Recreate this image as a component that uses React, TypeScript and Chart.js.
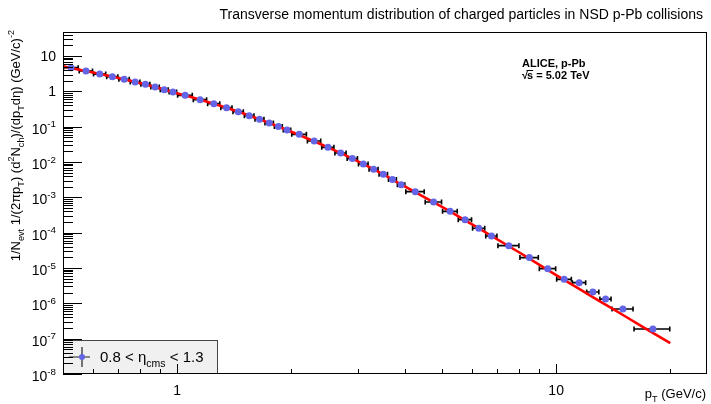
import React, { useEffect, useRef } from "react";
import { Chart, registerables } from "chart.js";

Chart.register(...registerables);

// ---- data ----
const ptCenters = [
  0.525, 0.575, 0.625, 0.675, 0.725, 0.775, 0.825, 0.875, 0.925, 0.975,
  1.05, 1.15, 1.25, 1.35, 1.45, 1.55, 1.65, 1.75, 1.85, 1.95,
  2.1, 2.3, 2.5, 2.7, 2.9, 3.1, 3.3, 3.5, 3.7, 3.9,
  4.25, 4.75, 5.25, 5.75, 6.25, 6.75,
  7.5, 8.5, 9.5, 10.5, 11.5, 12.5, 13.5,
  15, 18,
];
const ptHalfWidths = [
  0.025, 0.025, 0.025, 0.025, 0.025, 0.025, 0.025, 0.025, 0.025, 0.025,
  0.05, 0.05, 0.05, 0.05, 0.05, 0.05, 0.05, 0.05, 0.05, 0.05,
  0.1, 0.1, 0.1, 0.1, 0.1, 0.1, 0.1, 0.1, 0.1, 0.1,
  0.25, 0.25, 0.25, 0.25, 0.25, 0.25,
  0.5, 0.5, 0.5, 0.5, 0.5, 0.5, 0.5,
  1, 2,
];
const yieldValues = [
  4.7, 3.76, 3.09, 2.61, 2.19, 1.84, 1.58, 1.33, 1.12, 0.957,
  0.772, 0.583, 0.45, 0.346, 0.267, 0.206, 0.162, 0.127, 0.102, 0.0804,
  0.0608, 0.0393, 0.0261, 0.018, 0.0125, 0.00877, 0.00621, 0.00449, 0.00318, 0.00229,
  0.00145, 0.000738, 0.000402, 0.000234, 0.000133, 8.04e-5,
  4.3e-5, 1.97e-5, 9.6e-6, 4.78e-6, 3.86e-6, 2.09e-6, 1.32e-6,
  6.9e-7, 1.87e-7,
];
const fitPt = [0.5, 0.6, 0.7, 0.8, 0.9, 1.0, 1.2, 1.4, 1.6, 1.8, 2.0, 2.5, 3.0, 3.5, 4.0, 5.0, 6.0, 8.0, 10, 12, 14, 17, 20];
const fitValues = [
  5.1, 3.42, 2.39, 1.7, 1.22, 0.89, 0.51, 0.303, 0.183, 0.114, 0.072, 0.026, 0.0105, 0.00449,
  0.002, 0.00054, 0.000172, 2.75e-5, 6.3e-6, 1.95e-6, 7.3e-7, 2.1e-7, 7.5e-8,
];
const yDecadeExps = [-8, -7, -6, -5, -4, -3, -2, -1, 0, 1];
const xMajorTicks = [1, 10];
const xMajorLabels = ["1", "10"];
const xMinorTicks = [0.6, 0.7, 0.8, 0.9, 2, 3, 4, 5, 6, 7, 8, 9, 20];

const titleText = "Transverse momentum distribution of charged particles in NSD p-Pb collisions";
const seriesLabel = "0.8 < \u03b7cms < 1.3";
const annotLine1 = "ALICE, p-Pb";
const annotLine2 = "= 5.02 TeV";

const FONT = "'Liberation Sans', Arial, Helvetica, sans-serif";

type Seg = { t: string; k?: "sub" | "sup" };

function fnt(size: number, bold = false) {
  return `${bold ? "bold " : ""}${size}px ${FONT}`;
}
function richWidth(ctx: CanvasRenderingContext2D, segs: Seg[], size: number, bold = false) {
  let w = 0;
  for (const s of segs) {
    ctx.font = fnt(s.k ? size * 0.7 : size, bold);
    w += ctx.measureText(s.t).width;
  }
  return w;
}
function drawRich(ctx: CanvasRenderingContext2D, segs: Seg[], x: number, y: number, size: number, bold = false) {
  let cx = x;
  ctx.textAlign = "left";
  ctx.textBaseline = "alphabetic";
  for (const s of segs) {
    const sz = s.k ? size * 0.7 : size;
    ctx.font = fnt(sz, bold);
    const dy = s.k === "sub" ? size * 0.3 : s.k === "sup" ? -size * 0.45 : 0;
    ctx.fillText(s.t, cx, y + dy);
    cx += ctx.measureText(s.t).width;
  }
  return cx - x;
}

const rootStyle = {
  id: "rootStyle",
  beforeDatasetsDraw(chart: any) {
    const { ctx, chartArea: a, scales } = chart;
    const x = scales.x, y = scales.y;
    ctx.save();
    ctx.beginPath();
    ctx.rect(a.left, a.top, a.right - a.left, a.bottom - a.top);
    ctx.clip();
    ctx.strokeStyle = "#000";
    ctx.lineWidth = 1.6;
    ptCenters.forEach((pt, i) => {
      const x1 = x.getPixelForValue(pt - ptHalfWidths[i]);
      const x2 = x.getPixelForValue(pt + ptHalfWidths[i]);
      const yy = y.getPixelForValue(yieldValues[i]);
      ctx.beginPath();
      ctx.moveTo(x1, yy);
      ctx.lineTo(x2, yy);
      ctx.moveTo(x1 + 0.5, yy - 2.5);
      ctx.lineTo(x1 + 0.5, yy + 2.5);
      ctx.moveTo(x2 - 0.5, yy - 2.5);
      ctx.lineTo(x2 - 0.5, yy + 2.5);
      ctx.stroke();
    });
    ctx.restore();
  },
  afterDraw(chart: any) {
    const { ctx, chartArea: a, scales } = chart;
    const x = scales.x, y = scales.y;
    ctx.save();
    ctx.fillStyle = "#000";

    // Title
    ctx.font = fnt(14);
    ctx.textAlign = "right";
    ctx.textBaseline = "alphabetic";
    ctx.fillText(titleText, 703, 19);

    // Legend box
    const lx0 = a.left, lx1 = a.left + 155, ly0 = a.bottom - 34, ly1 = a.bottom;
    ctx.fillStyle = "#f0f0f0";
    ctx.fillRect(lx0, ly0, lx1 - lx0, ly1 - ly0);
    ctx.strokeStyle = "#444";
    ctx.lineWidth = 1;
    ctx.strokeRect(lx0 + 0.5, ly0 + 0.5, lx1 - lx0 - 1, ly1 - ly0 - 1);
    const mx = a.left + 19, my = ly0 + 17;
    ctx.strokeStyle = "#222";
    ctx.lineWidth = 1.2;
    ctx.beginPath();
    ctx.moveTo(mx - 13, my);
    ctx.lineTo(mx + 8, my);
    ctx.moveTo(mx, my - 10);
    ctx.lineTo(mx, my + 10);
    ctx.stroke();
    ctx.fillStyle = "#6464e6";
    ctx.beginPath();
    ctx.arc(mx, my, 3, 0, Math.PI * 2);
    ctx.fill();
    ctx.fillStyle = "#000";
    const parts = seriesLabel.split("cms");
    drawRich(ctx, [{ t: parts[0] }, { t: "cms", k: "sub" }, { t: parts[1] }], a.left + 37, my + 5, 15);

    // Frame
    ctx.strokeStyle = "#000";
    ctx.lineWidth = 1;
    ctx.strokeRect(a.left + 0.5, a.top + 0.5, a.right - a.left - 1, a.bottom - a.top - 1);

    // Y ticks
    ctx.beginPath();
    for (const e of yDecadeExps) {
      for (let k = 1; k <= 9; k++) {
        const v = k * Math.pow(10, e);
        if (v < y.min || v > y.max) continue;
        const py = Math.round(y.getPixelForValue(v)) + 0.5;
        const len = k === 1 ? 19 : 10;
        ctx.moveTo(a.left, py);
        ctx.lineTo(a.left + len, py);
      }
    }
    // X ticks
    for (const t of xMajorTicks) {
      const px = Math.round(x.getPixelForValue(t)) + 0.5;
      ctx.moveTo(px, a.bottom);
      ctx.lineTo(px, a.bottom - 10);
    }
    for (const t of xMinorTicks) {
      const px = Math.round(x.getPixelForValue(t)) + 0.5;
      ctx.moveTo(px, a.bottom);
      ctx.lineTo(px, a.bottom - 5);
    }
    ctx.stroke();

    // Y tick labels
    ctx.fillStyle = "#000";
    for (const e of yDecadeExps) {
      const py = y.getPixelForValue(Math.pow(10, e));
      let segs: Seg[];
      if (e === 1) segs = [{ t: "10" }];
      else if (e === 0) segs = [{ t: "1" }];
      else segs = [{ t: "10" }, { t: String(e), k: "sup" }];
      const w = richWidth(ctx, segs, 14);
      drawRich(ctx, segs, a.left - 7 - w, py + 5 + (segs.length > 1 ? 2 : 0), 14);
    }
    // X tick labels
    ctx.font = fnt(14);
    ctx.textAlign = "center";
    xMajorTicks.forEach((t, i) => {
      ctx.fillText(xMajorLabels[i], x.getPixelForValue(t), a.bottom + 21);
    });

    // X axis title
    const xt: Seg[] = [{ t: "p" }, { t: "T", k: "sub" }, { t: " (GeV/c)" }];
    const xtw = richWidth(ctx, xt, 13);
    drawRich(ctx, xt, a.right - xtw - 1, 398, 13);

    // Y axis title (rotated)
    const yt: Seg[] = [
      { t: "1/N" }, { t: "evt", k: "sub" }, { t: " 1/(2\u03c0p" }, { t: "T", k: "sub" },
      { t: ") (d" }, { t: "2", k: "sup" }, { t: "N" }, { t: "ch", k: "sub" },
      { t: ")/(dp" }, { t: "T", k: "sub" }, { t: "d\u03b7) (GeV/c)" }, { t: "-2", k: "sup" },
    ];
    const ytw = richWidth(ctx, yt, 13);
    ctx.save();
    ctx.translate(20, 0);
    ctx.rotate(-Math.PI / 2);
    drawRich(ctx, yt, -30 - ytw, 0, 13);
    ctx.restore();

    // Annotation
    const ax = 522;
    ctx.font = fnt(11, true);
    ctx.textAlign = "left";
    ctx.fillText(annotLine1, ax, 67);
    ctx.fillText("\u221a", ax, 79);
    const sqw = ctx.measureText("\u221a").width;
    ctx.fillText("s", ax + sqw - 1, 79);
    const sw = ctx.measureText("s").width;
    ctx.lineWidth = 1;
    ctx.beginPath();
    ctx.moveTo(ax + sqw - 1.5, 70.5);
    ctx.lineTo(ax + sqw - 1 + sw, 70.5);
    ctx.stroke();
    ctx.fillText(" " + annotLine2, ax + sqw - 1 + sw, 79);

    ctx.restore();
  },
};

export default function App() {
  const ref = useRef<HTMLCanvasElement | null>(null);
  useEffect(() => {
    if (!ref.current) return;
    const chart = new Chart(ref.current, {
      type: "scatter",
      data: {
        datasets: [
          {
            type: "line",
            data: fitPt.map((p, i) => ({ x: p, y: fitValues[i] })),
            borderColor: "#ff0000",
            borderWidth: 2.6,
            pointRadius: 0,
            showLine: true,
            cubicInterpolationMode: "monotone",
            fill: false,
            order: 2,
          } as any,
          {
            type: "scatter",
            data: ptCenters.map((p, i) => ({ x: p, y: yieldValues[i] })),
            backgroundColor: "#6464e6",
            borderWidth: 0,
            pointRadius: 3.5,
            order: 1,
          },
        ],
      },
      options: {
        responsive: false,
        animation: false,
        devicePixelRatio: 1,
        layout: { padding: { left: 63, right: 1, top: 32, bottom: 30 } },
        scales: {
          x: { type: "logarithmic", min: 0.5, max: 25, display: false },
          y: { type: "logarithmic", min: 1e-8, max: 48, display: false },
        },
        plugins: { legend: { display: false }, tooltip: { enabled: false }, title: { display: false } },
      },
      plugins: [rootStyle],
    });
    return () => chart.destroy();
  }, []);
  return (
    <div style={{ position: "fixed", left: 0, top: 0, width: 711, height: 404, background: "#fff" }}>
      <canvas ref={ref} width={711} height={404} style={{ width: 711, height: 404, display: "block" }} />
    </div>
  );
}
